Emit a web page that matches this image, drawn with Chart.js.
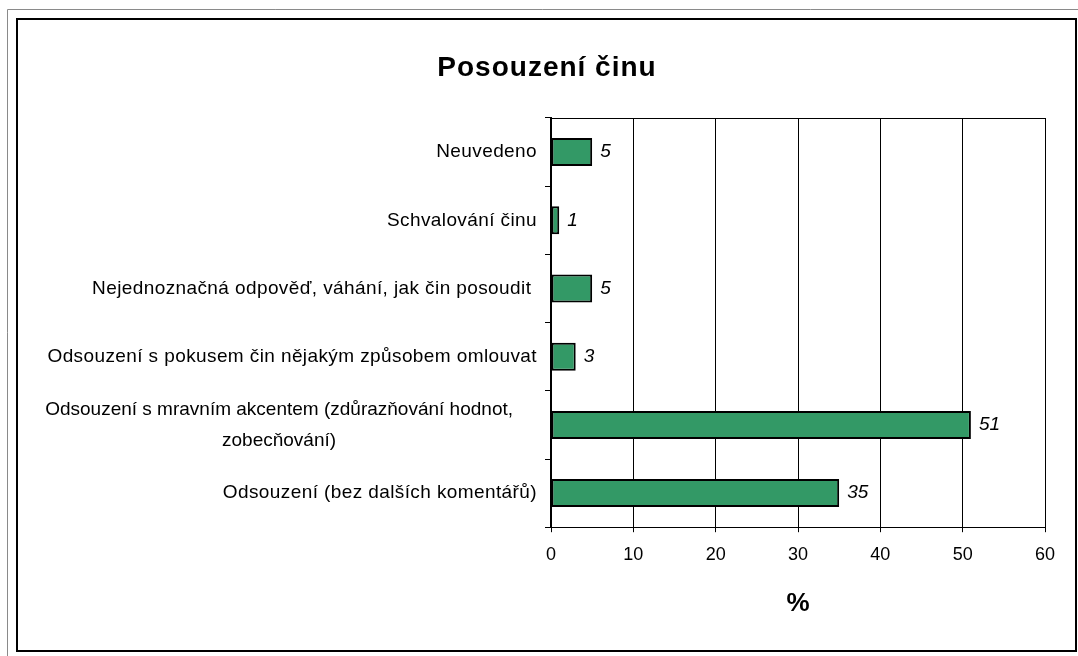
<!DOCTYPE html>
<html>
<head>
<meta charset="utf-8">
<script src="https://cdn.jsdelivr.net/npm/chart.js@4.4.0/dist/chart.umd.min.js"></script>
<style>
  body { margin: 0; background: #fff; }
  canvas { display: block; }
</style>
</head>
<body>
<canvas id="chart" width="1078" height="656"></canvas>
<script>
const chartTitle = 'Posouzení činu';
const categories = [
  'Neuvedeno',
  'Schvalování činu',
  'Nejednoznačná odpověď, váhání, jak čin posoudit ',
  'Odsouzení s pokusem čin nějakým způsobem omlouvat',
  ['Odsouzení s mravním akcentem (zdůrazňování hodnot,', 'zobecňování)'],
  'Odsouzení (bez dalších komentářů)'
];
const values = [5, 1, 5, 3, 51, 35];
const xMin = 0;
const xMax = 60;
const xStep = 10;
const xTitle = '%';

const FONT = "'Liberation Sans', Arial, sans-serif";

// frame, title, wrapped category labels and value labels
const decor = {
  id: 'decor',
  beforeDraw(chart) {
    const ctx = chart.ctx;
    ctx.save();
    ctx.fillStyle = '#fff';
    ctx.fillRect(0, 0, chart.width, chart.height);
    ctx.strokeStyle = '#8a8a8a';
    ctx.lineWidth = 1;
    ctx.beginPath();
    ctx.moveTo(7.5, chart.height);
    ctx.lineTo(7.5, 9.5);
    ctx.lineTo(chart.width, 9.5);
    ctx.stroke();
    ctx.strokeStyle = '#000';
    ctx.lineWidth = 2;
    ctx.strokeRect(17, 19, 1059, 632);
    ctx.restore();
  },
  afterDraw(chart) {
    const ctx = chart.ctx;
    const area = chart.chartArea;
    const yScale = chart.scales.y;
    ctx.save();

    // top border of plot area
    ctx.strokeStyle = '#000';
    ctx.lineWidth = 1;
    ctx.beginPath();
    ctx.moveTo(area.left, Math.round(area.top) + 0.5);
    ctx.lineTo(area.right, Math.round(area.top) + 0.5);
    ctx.stroke();

    // title
    ctx.fillStyle = '#000';
    ctx.letterSpacing = '1px';
    ctx.font = 'bold 28px ' + FONT;
    ctx.textAlign = 'center';
    ctx.textBaseline = 'alphabetic';
    ctx.fillText(chartTitle, 547, 76);

    // category labels
    ctx.font = '19px ' + FONT;
    ctx.textBaseline = 'middle';
    const right = area.left - 14;
    categories.forEach((lab, i) => {
      const y = yScale.getPixelForValue(i);
      if (Array.isArray(lab)) {
        // wrapped label: lines centred, block a bit left like excel wrap
        ctx.letterSpacing = '0px';
        const w = Math.max(...lab.map(l => ctx.measureText(l).width));
        const cx = right - 24 - w / 2;
        ctx.textAlign = 'center';
        lab.forEach((l, k) => {
          ctx.fillText(l, cx, y + (k - (lab.length - 1) / 2) * 31);
        });
      } else {
        ctx.letterSpacing = '0.4px';
        ctx.textAlign = 'right';
        ctx.fillText(lab, right, y);
      }
    });

    // value labels
    ctx.letterSpacing = '0px';
    ctx.font = 'italic 19px ' + FONT;
    ctx.textAlign = 'left';
    const meta = chart.getDatasetMeta(0);
    meta.data.forEach((bar, i) => {
      ctx.fillText(String(values[i]), bar.x + 8, bar.y);
    });
    ctx.restore();
  }
};

const ctx = document.getElementById('chart').getContext('2d');
const chart = new Chart(ctx, {
  type: 'bar',
  data: {
    labels: categories,
    datasets: [{
      data: values,
      backgroundColor: '#339966',
      borderColor: '#000000',
      borderWidth: 2,
      borderSkipped: false,
      barPercentage: 0.41,
      categoryPercentage: 1
    }]
  },
  options: {
    indexAxis: 'y',
    responsive: false,
    animation: false,
    layout: {
      padding: { top: 118, right: 33, bottom: 33, left: 0 }
    },
    plugins: {
      legend: { display: false },
      title: { display: false },
      tooltip: { enabled: false }
    },
    scales: {
      x: {
        min: xMin,
        max: xMax,
        ticks: {
          stepSize: xStep,
          color: '#000',
          padding: 12,
          font: { family: FONT, size: 18 }
        },
        grid: {
          color: '#000',
          lineWidth: 1,
          tickLength: 5,
          drawTicks: true
        },
        border: { display: true, color: '#000', width: 1 },
        title: {
          display: true,
          text: xTitle,
          color: '#000',
          font: { family: FONT, size: 26, weight: 'bold' },
          padding: { top: 10, bottom: 4 }
        }
      },
      y: {
        afterFit(scale) { scale.width = 551; },
        ticks: { display: false },
        grid: {
          offset: true,
          drawOnChartArea: false,
          drawTicks: true,
          tickLength: 6,
          color: '#000'
        },
        border: { display: true, color: '#000', width: 2 }
      }
    }
  },
  plugins: [decor]
});
</script>
</body>
</html>
